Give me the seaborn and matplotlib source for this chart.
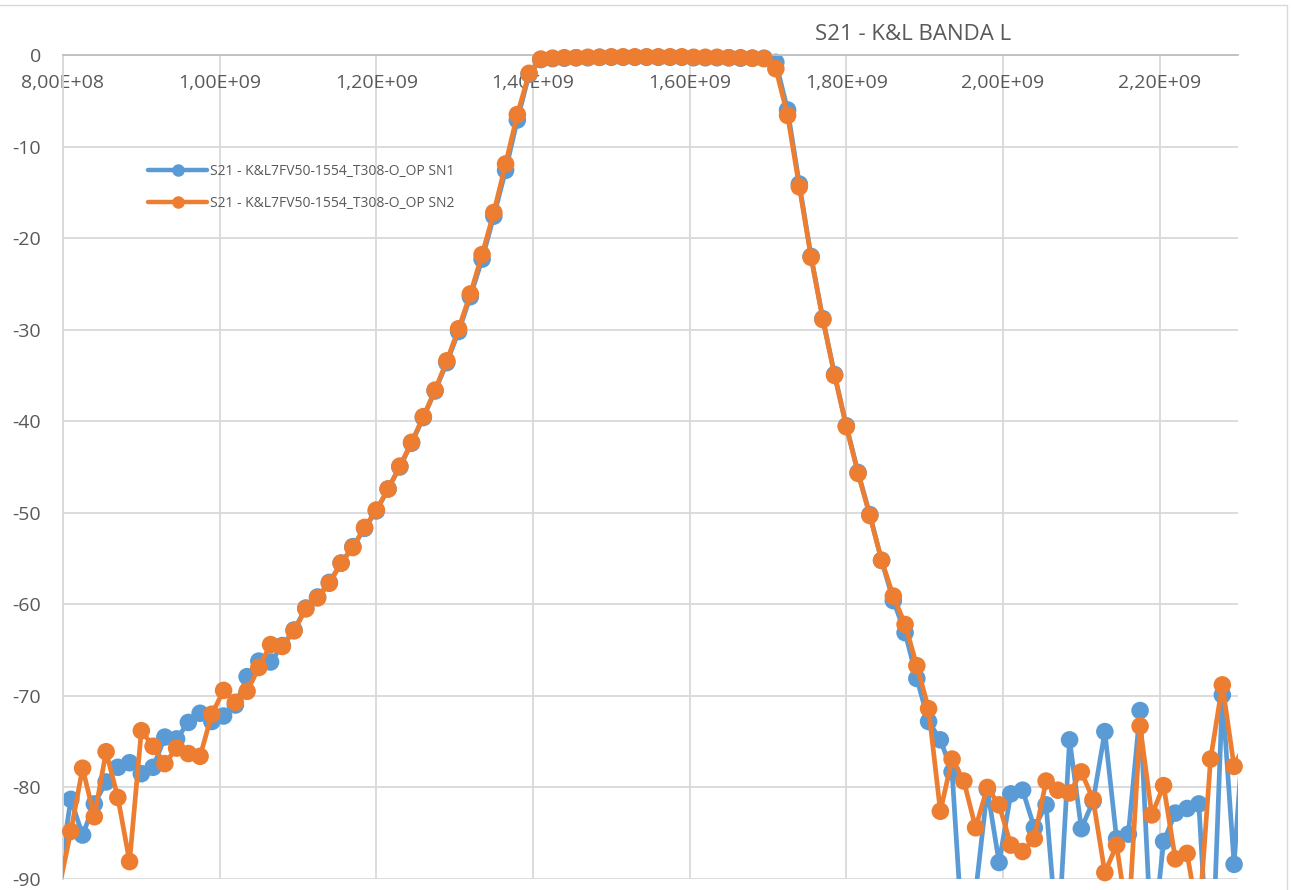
import numpy as np
import pandas as pd
import matplotlib.pyplot as plt
from matplotlib.lines import Line2D
import seaborn as sns

# Sweep frequencies in MHz (one point on each side lies outside the shown window)
freq_mhz = [795, 810, 825, 840, 855, 870, 885, 900, 915, 930,
            945, 960, 975, 990, 1005, 1020, 1035, 1050, 1065, 1080,
            1095, 1110, 1125, 1140, 1155, 1170, 1185, 1200, 1215, 1230,
            1245, 1260, 1275, 1290, 1305, 1320, 1335, 1350, 1365, 1380,
            1395, 1410, 1425, 1440, 1455, 1470, 1485, 1500, 1515, 1530,
            1545, 1560, 1575, 1590, 1605, 1620, 1635, 1650, 1665, 1680,
            1695, 1710, 1725, 1740, 1755, 1770, 1785, 1800, 1815, 1830,
            1845, 1860, 1875, 1890, 1905, 1920, 1935, 1950, 1965, 1980,
            1995, 2010, 2025, 2040, 2055, 2070, 2085, 2100, 2115, 2130,
            2145, 2160, 2175, 2190, 2205, 2220, 2235, 2250, 2265, 2280,
            2295, 2310]

# S21 (dB) unit SN1
s21_sn1 = [-89.8, -81.3, -85.2, -81.8, -79.4, -77.8, -77.3, -78.5, -77.8, -74.5,
           -74.7, -72.9, -71.9, -72.8, -72.2, -71.0, -67.9, -66.2, -66.3, -64.5,
           -62.8, -60.4, -59.2, -57.6, -55.5, -53.7, -51.7, -49.8, -47.4, -45.0,
           -42.4, -39.6, -36.7, -33.6, -30.2, -26.4, -22.3, -17.6, -12.6, -7.1,
           -2.1, -0.5, -0.4, -0.35, -0.3, -0.3, -0.25, -0.25, -0.25, -0.25,
           -0.25, -0.25, -0.25, -0.25, -0.3, -0.3, -0.3, -0.3, -0.35, -0.35,
           -0.35, -0.8, -6.0, -14.1, -22.0, -28.8, -34.9, -40.5, -45.6, -50.2,
           -55.2, -59.6, -63.1, -68.1, -72.8, -74.8, -78.3, -98.5, -91.5, -80.2,
           -88.2, -80.7, -80.3, -84.4, -81.9, -97.3, -74.8, -84.5, -81.5, -73.9,
           -85.6, -85.1, -71.6, -98.0, -85.9, -82.8, -82.3, -81.8, -104.0, -69.9,
           -88.4, -70.0]

# S21 (dB) unit SN2
s21_sn2 = [-91.0, -84.8, -77.9, -83.2, -76.1, -81.1, -88.1, -73.8, -75.5, -77.4,
           -75.7, -76.3, -76.6, -72.0, -69.4, -70.7, -69.5, -66.9, -64.4, -64.6,
           -62.9, -60.5, -59.3, -57.7, -55.5, -53.8, -51.6, -49.7, -47.4, -44.9,
           -42.3, -39.5, -36.6, -33.4, -29.9, -26.1, -21.8, -17.2, -11.9, -6.5,
           -2.0, -0.45, -0.35, -0.3, -0.3, -0.25, -0.25, -0.2, -0.2, -0.2,
           -0.2, -0.2, -0.2, -0.2, -0.25, -0.25, -0.25, -0.3, -0.3, -0.35,
           -0.4, -1.5, -6.6, -14.4, -22.1, -28.9, -35.0, -40.6, -45.7, -50.3,
           -55.2, -59.1, -62.2, -66.7, -71.4, -82.6, -76.9, -79.3, -84.4, -80.0,
           -81.9, -86.3, -87.0, -85.6, -79.3, -80.3, -80.6, -78.3, -81.3, -89.3,
           -86.3, -95.0, -73.3, -83.0, -79.8, -87.8, -87.2, -94.7, -76.9, -68.8,
           -77.7, -75.0]

labels = ["S21 - K&L7FV50-1554_T308-O_OP SN1", "S21 - K&L7FV50-1554_T308-O_OP SN2"]
colors = ["#5B9BD5", "#ED7D31"]

xticks = [8e8, 1.0e9, 1.2e9, 1.4e9, 1.6e9, 1.8e9, 2.0e9, 2.2e9]
xtick_labels = ["8,00E+08", "1,00E+09", "1,20E+09", "1,40E+09",
                "1,60E+09", "1,80E+09", "2,00E+09", "2,20E+09"]
yticks = [0, -10, -20, -30, -40, -50, -60, -70, -80, -90]
ytick_labels = ["0", "-10", "-20", "-30", "-40", "-50", "-60", "-70", "-80", "-90"]

xmin, xmax = 8e8, 2.3e9
ymin, ymax = -90, 0

sns.set_style("white")
plt.rcParams['font.family'] = ['Open Sans', 'DejaVu Sans']
text_col = "#595959"
grid_col = "#D9D9D9"

df = pd.DataFrame({"freq": np.array(freq_mhz) * 1e6, "SN1": s21_sn1, "SN2": s21_sn2})

fig = plt.figure(figsize=(12.92, 8.90), dpi=100)
ax = fig.add_axes([63 / 1292, 1 - 879 / 890, 1175 / 1292, 824 / 890])

z = 2
for col, color in zip(["SN1", "SN2"], colors):
    sns.lineplot(data=df, x="freq", y=col, ax=ax, color=color, linewidth=3.4,
                 legend=False, zorder=z)
    inside = df[(df.freq >= xmin) & (df.freq <= xmax) & (df[col] >= ymin) & (df[col] <= ymax)]
    ax.scatter(inside.freq, inside[col], s=160, color=color, edgecolors="none",
               zorder=z + 0.5, clip_on=False)
    z += 1

ax.set_xlim(xmin, xmax)
ax.set_ylim(ymin, ymax)
ax.set_xticks(xticks)
ax.set_xticklabels(xtick_labels)
ax.set_yticks(yticks)
ax.set_yticklabels(ytick_labels)
ax.set_xlabel("")
ax.set_ylabel("")

ax.grid(True, color=grid_col, linewidth=1.3)
ax.set_axisbelow(True)
for side in ["right", "bottom"]:
    ax.spines[side].set_visible(False)
ax.spines["left"].set_color(grid_col)
ax.spines["top"].set_color("#BFBFBF")
ax.spines["left"].set_linewidth(1.3)
ax.spines["top"].set_linewidth(1.3)

ax.tick_params(axis="x", bottom=False, labelbottom=False, top=False, labeltop=True,
               pad=-27, labelsize=14, labelcolor=text_col, length=0)
ax.tick_params(axis="y", left=False, pad=16, labelsize=14, labelcolor=text_col, length=0)

handles = [Line2D([0], [0], color=c, linewidth=3.2, marker="o", markersize=8) for c in colors]
ax.legend(handles, labels, loc="upper left", bbox_to_anchor=(0.068, 0.875), frameon=False,
          fontsize=10, labelcolor=text_col, handlelength=4.2, handletextpad=0.2,
          labelspacing=1.25, borderaxespad=0)

fig.text(913 / 1292, 1 - 34 / 890, "S21 - K&L BANDA L", ha="center", va="center",
         fontsize=16, color=text_col)

# chart border
fig.add_artist(plt.Rectangle((-0.01, -0.01), (1287 / 1292) + 0.01, 1 - 5 / 890 + 0.01,
                             transform=fig.transFigure, fill=False, edgecolor=grid_col,
                             linewidth=1))

fig.savefig("out.png", dpi=100)
